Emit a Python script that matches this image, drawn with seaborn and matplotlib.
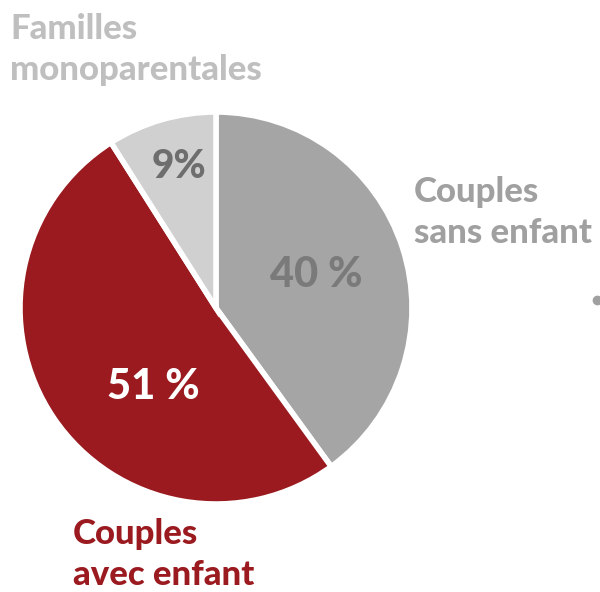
import matplotlib
matplotlib.use("Agg")
import matplotlib.pyplot as plt
import seaborn as sns

categories = ["Couples sans enfant", "Couples avec enfant", "Familles monoparentales"]
shares = [40, 51, 9]
pct_labels = ["40 %", "51 %", "9%"]
outer_labels = ["Couples\nsans enfant", "Couples\navec enfant", "Familles\nmonoparentales"]

sns.set_theme(style="white")
plt.rcParams['font.family'] = ['Lato', 'DejaVu Sans']

colors = ["#A5A5A5", "#9A1A1F", "#D0D0D0"]
pct_colors = ["#7A7A7A", "#FFFFFF", "#6E6E6E"]
label_colors = ["#A0A0A0", "#9A1A1F", "#BFBFBF"]

fig = plt.figure(figsize=(6, 5.92), dpi=100)
ax = fig.add_axes([0, 0, 1, 1])

cx, cy, r = 216, 592 - 308, 196
wedges, _ = ax.pie(shares, colors=colors, startangle=90, counterclock=False,
                   center=(cx, cy), radius=r,
                   wedgeprops=dict(edgecolor="white", linewidth=4))
ax.set_xlim(0, 600)
ax.set_ylim(0, 592)
ax.set_aspect("equal")
ax.axis("off")

# percentage labels inside the slices
pct_pos = [(316, 592 - 275), (153, 592 - 387), (179, 592 - 166)]
pct_size = [30, 30, 28]
for (x, y), txt, c, s in zip(pct_pos, pct_labels, pct_colors, pct_size):
    ax.text(x, y, txt, color=c, fontsize=s, fontweight="black", ha="center", va="center")

# category labels outside
lab_pos = [(414, 592 - 176), (73, 592 - 518), (10, 592 - 13)]
for (x, y), txt, c in zip(lab_pos, outer_labels, label_colors):
    ax.text(x, y, txt, color=c, fontsize=25, fontweight="black", ha="left", va="top",
            linespacing=1.35)

ax.plot([597], [592 - 300], marker="o", color="#A0A0A0", markersize=6)

fig.savefig("out.png", dpi=100)
